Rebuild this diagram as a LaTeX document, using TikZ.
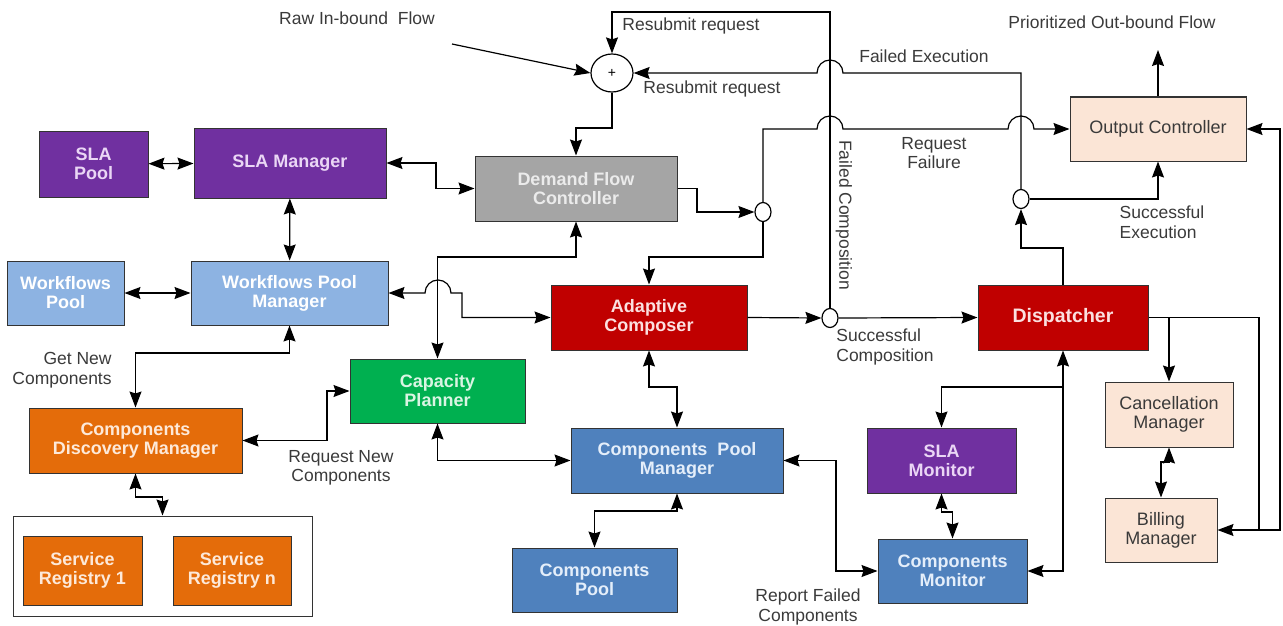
\documentclass[tikz,border=0pt]{standalone}
\usepackage{fontspec}
\setmainfont{Liberation Sans}
\usetikzlibrary{arrows.meta,shapes.geometric}

\definecolor{slapurple}{HTML}{7030A0}
\definecolor{slatext}{HTML}{EAD6F5}
\definecolor{wfblue}{HTML}{8DB3E2}
\definecolor{dfgray}{HTML}{A5A5A5}
\definecolor{acred}{HTML}{C00000}
\definecolor{actext}{HTML}{FBE0E0}
\definecolor{cpgreen}{HTML}{00B050}
\definecolor{cptext}{HTML}{D9F5E3}
\definecolor{cdorange}{HTML}{E46C0A}
\definecolor{cdtext}{HTML}{FDE9D9}
\definecolor{cmblue}{HTML}{4F81BD}
\definecolor{cmtext}{HTML}{E4EEFA}
\definecolor{peach}{HTML}{FBE5D6}
\definecolor{labelgray}{HTML}{3A3A3A}

\begin{document}
\begin{tikzpicture}[x=1pt,y=-1pt,>={Stealth[length=16pt,width=12pt,inset=2pt]},line width=1.2pt,
  box/.style={draw=black!80,line width=1pt,align=center,inner sep=2pt,font=\fontsize{18}{19}\selectfont\bfseries},
  slabox/.style={box,fill=slapurple,text=slatext},
  wfbox/.style={box,fill=wfblue,text=white},
  dfbox/.style={box,fill=dfgray,text=white!92!black},
  redbox/.style={box,fill=acred,text=actext},
  greenbox/.style={box,fill=cpgreen,text=cptext},
  orangebox/.style={box,fill=cdorange,text=cdtext},
  bluebox/.style={box,fill=cmblue,text=cmtext},
  peachbox/.style={box,fill=peach,text=labelgray,font=\fontsize{18}{19}\selectfont},
  lbl/.style={align=center,text=labelgray,inner sep=0pt,font=\fontsize{17.5}{19.5}\selectfont},
  junction/.style={ellipse,draw,fill=white,minimum width=16pt,minimum height=19pt,inner sep=0pt}]
\useasboundingbox (0,0) rectangle (1283,626);
% Nodes
\node[slabox,minimum width=109pt,minimum height=66pt] (slapool) at (93.5,164) {SLA\\Pool};
\node[slabox,minimum width=192pt,minimum height=70pt] (slamgr) at (290,163) {SLA Manager};
\node[wfbox,minimum width=117pt,minimum height=64pt] (wfpool) at (65.5,293) {Workflows\\Pool};
\node[wfbox,minimum width=197pt,minimum height=64pt] (wfmgr) at (289.5,293) {Workflows Pool\\Manager};
\node[dfbox,minimum width=202pt,minimum height=65pt] (dfc) at (576,188.5) {Demand Flow\\Controller};
\node[redbox,minimum width=196pt,minimum height=65pt] (ac) at (649,317.5) {Adaptive\\Composer};
\node[greenbox,minimum width=175pt,minimum height=64pt] (cap) at (437.5,391) {Capacity\\Planner};
\node[orangebox,minimum width=213pt,minimum height=65pt] (cdm) at (135.5,440.5) {Components\\Discovery Manager};
\node[draw=black!80,line width=1pt,minimum width=299pt,minimum height=100pt] (regbox) at (162.5,566) {};
\node[orangebox,minimum width=119pt,minimum height=69pt] (sr1) at (82.5,570.5) {Service\\Registry 1};
\node[orangebox,minimum width=118pt,minimum height=69pt] (srn) at (232,570.5) {Service\\Registry n};
\node[bluebox,minimum width=212pt,minimum height=65pt] (cpm) at (677,460.5) {Components~~Pool\\Manager};
\node[bluebox,minimum width=165pt,minimum height=64pt] (cpool) at (594.5,580) {Components\\Pool};
\node[redbox,minimum width=170pt,minimum height=65pt,font=\fontsize{19.5}{20}\selectfont\bfseries] (disp) at (1063,317.5) {Dispatcher};
\node[slabox,minimum width=149pt,minimum height=65pt] (slamon) at (941.5,460.5) {SLA\\Monitor};
\node[bluebox,minimum width=149pt,minimum height=64pt] (cmon) at (952.5,571) {Components\\Monitor};
\node[peachbox,minimum width=128pt,minimum height=65pt] (cancel) at (1169,414.5) {Cancellation\\Manager};
\node[peachbox,minimum width=112pt,minimum height=64pt] (billing) at (1161,530) {Billing\\Manager};
\node[peachbox,minimum width=176pt,minimum height=64pt] (outc) at (1158,129) {Output Controller};
\node[ellipse,draw,minimum width=42pt,minimum height=38pt,inner sep=0pt,font=\fontsize{14}{14}\selectfont] (plus) at (612,73) {+};
\node[junction] (j1) at (763,212) {};
\node[junction] (j2) at (830,318) {};
\node[junction] (j3) at (1021,199) {};
% Labels
\node[lbl] (rawlbl) at (357,18) {Raw In-bound~~Flow};
\node[lbl] (resub1) at (691,26) {Resubmit request};
\node[lbl] (resub2) at (712,89) {Resubmit request};
\node[lbl] (faillbl) at (924,56) {Failed Execution};
\node[lbl] (outlbl) at (1112,22) {Prioritized Out-bound Flow};
\node[lbl] (reqfail) at (934,153) {Request\\Failure};
\node[lbl,align=left] (succex) at (1162,222) {Successful\\Execution};
\node[lbl,align=left] (succomp) at (885,347) {Successful\\Composition};
\node[lbl,rotate=-90] (failcomp) at (844,215) {Failed Composition};
\node[lbl,align=right] (getnew) at (62,370) {Get New\\Components};
\node[lbl] (reqnew) at (341,468) {Request New\\Components};
\node[lbl] (report) at (808,607) {Report Failed\\Components};
% Free ends
\coordinate (rawin) at (452,44);
\coordinate (outflow) at (1158,50);
\coordinate (dbranch) at (1063,387);
\coordinate (cbranch) at (1169,317.5);
\coordinate (bjoin) at (1259,530);
% Edges
\draw[->] (rawin) -- (plus.west);
\draw[->] (plus.south) -- (612,128) -| (dfc.north);
\draw[->] (j2.north) -- (830,12) -| (plus.north);
\draw[->] (j3.north) -- (1021,73) -- (843,73) arc (0:-180:13) -- (plus.east);
\draw[->] (dfc.east) -- (697,188.5) |- (j1.west);
\draw[->] (j1.north) |- (817,129) arc (180:360:13) -- (1008,129) arc (180:360:13) -- (outc.west);
\draw[->] (j1.south) -- (763,257) -| (ac.north);
\draw[<->] (slapool) -- (slamgr);
\draw[<->] (slamgr) -- (wfmgr);
\draw[<->] (wfpool) -- (wfmgr);
\draw[<->] (slamgr.east) -- (436,163) |- (dfc.west);
\draw[<->] (wfmgr.east) -- (425,293) arc (180:360:13) -- (462,293) |- (ac.west);
\draw[<->] (dfc.south) |- (437.5,257) -- (cap.north);
\draw[<->] (cap.south) |- (cpm.west);
\draw[<->] (ac.south) -- (649,387) -| (cpm.north);
\draw[<->] (cpm.south) -- (677,511) -| (cpool.north);
\draw[<->] (cpm.east) -- (836,460.5) |- (cmon.west);
\draw[->] (ac.east) -- (j2.west);
\draw[->] (j2.east) -- (disp.west);
\draw[<->] (disp.south) |- (cmon.east);
\draw[->] (dbranch) -| (slamon.north);
\draw[<->] (slamon.south) -- (941.5,512) -| (cmon.north);
\draw[->] (disp.north) -- (1063,248) -| (j3.south);
\draw[->] (j3.east) -| (outc.south);
\draw[->] (outc.north) -- (outflow);
\draw[->] (disp.east) -- (1259,317.5) |- (billing.east);
\draw[->] (cbranch) -- (cancel.north);
\draw[<->] (cancel.south) -- (1169,462) -| (billing.north);
\draw[->] (bjoin) -- (1280,530) |- (outc.east);
\draw[<->] (wfmgr.south) |- (135.5,353) -- (cdm.north);
\draw[<->] (cdm.east) -- (327,440.5) |- (cap.west);
\draw[<->] (cdm.south) |- (162.5,497) -- (regbox.north);
\end{tikzpicture}
\end{document}
